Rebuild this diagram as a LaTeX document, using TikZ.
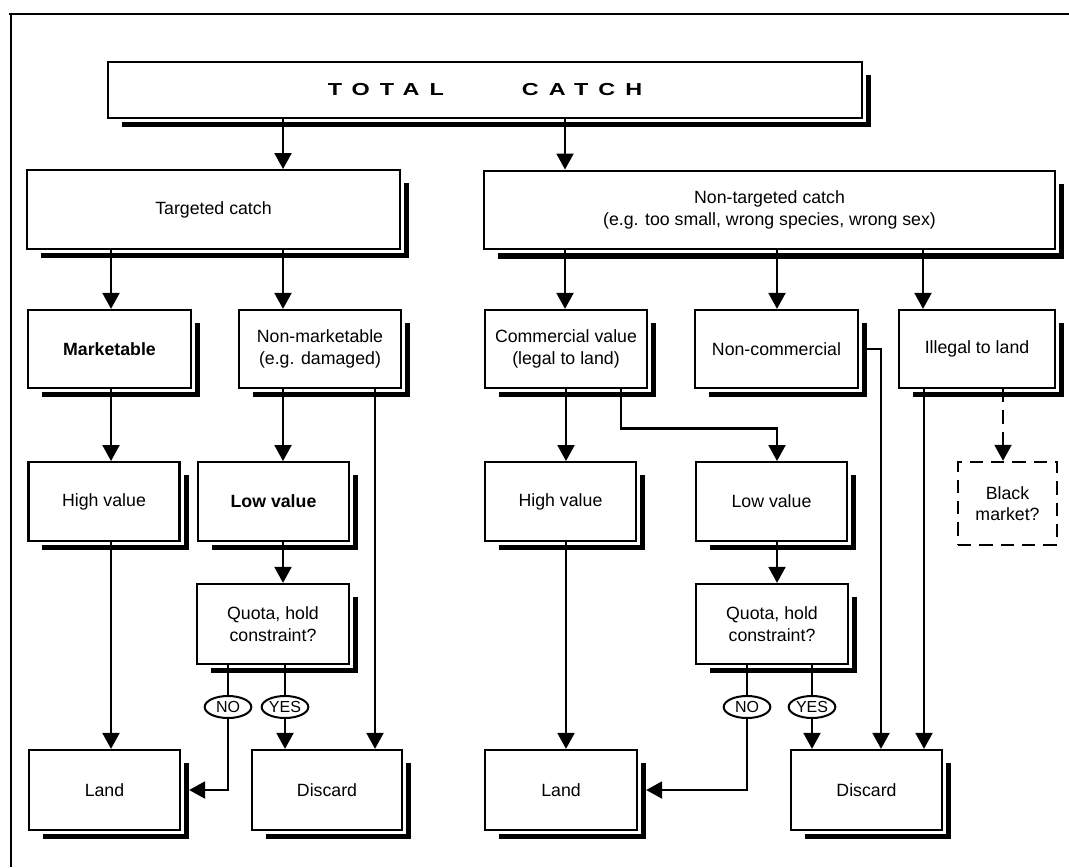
\documentclass[tikz,border=0pt]{standalone}
\usepackage{fontspec}
\setmainfont{Liberation Sans}
\usetikzlibrary{arrows.meta,shapes.geometric,positioning,calc}

\tikzset{
  box/.style={draw, line width=1.6pt, fill=white, align=center, inner sep=2pt,
    font=\fontsize{13.3}{16}\selectfont, minimum height=59pt},
  shadowline/.style={line width=3.9pt, line cap=butt, line join=miter},
  link/.style={line width=2.2pt},
  arr/.style={link, -{Triangle[length=12pt,width=12.5pt]}},
  answer/.style={draw, ellipse, line width=1.5pt, fill=white, inner sep=0pt,
    minimum width=35pt, minimum height=16.5pt, font=\fontsize{12}{12}\selectfont},
}
% L-shaped shadow to the lower right of a box
\newcommand\castshadow[1]{\draw[shadowline] ([xshift=4.2pt,yshift=-10.5pt]#1.north east) |- ([xshift=11pt,yshift=-4.2pt]#1.south west);}

\begin{document}
\begin{tikzpicture}[x=0.75pt,y=-0.75pt]
  \useasboundingbox (0,0) rectangle (1069,867);
  \draw[line width=1.6pt] (9,14) -- (1069,14);
  \draw[line width=1.6pt] (11,13) -- (11,867);

  % top levels
  \node[box, minimum width=565.5pt, minimum height=42pt,
    font=\fontsize{13}{15}\selectfont\bfseries\addfontfeature{FakeStretch=1.35,LetterSpace=58}] (total) at (485,90) {TOTAL\hspace{4.5em}CATCH};
  \node[box, minimum width=279.75pt] (targeted) at (213.5,209.5) {Targeted catch};
  \node[box, minimum width=428.25pt] (nontargeted) at (769.5,210) {Non-targeted catch\\(e.g. too small, wrong species, wrong sex)};

  % second row
  \node[box, minimum width=122.25pt, minimum height=58.5pt, font=\fontsize{13.3}{16}\selectfont\bfseries] (marketable) at (109.5,349) {Marketable};
  \node[box, minimum width=121.5pt, minimum height=58.5pt] (nonmarketable) at (320,349) {Non-marketable\\(e.g. damaged)};
  \node[box, minimum width=121.5pt, minimum height=58.5pt] (commercial) at (566,349) {Commercial value\\(legal to land)};
  \node[box, minimum width=122.25pt, minimum height=58.5pt] (noncommercial) at (776.5,349) {Non-commercial};
  \node[box, minimum width=117pt, minimum height=58.5pt] (illegal) at (977,349) {Illegal to land};

  % value
  \node[box, minimum width=113.25pt] (highL) at (104,501.5) {High value};
  \node[box, minimum width=113.25pt, font=\fontsize{13.3}{16}\selectfont\bfseries] (lowL) at (273.5,501.5) {Low value};
  \node[box, minimum width=113.25pt] (highR) at (560.5,501.5) {High value};
  \node[box, minimum width=113.25pt] (lowR) at (771.5,501.5) {Low value};
  \node[box, dashed, dash pattern=on 10pt off 6pt, line width=1.7pt, minimum width=74.25pt, minimum height=62.25pt] (black) at (1007.5,503.5) {Black\\market?};

  % quota
  \node[box, minimum width=114pt, minimum height=60pt] (quotaL) at (273,624) {Quota, hold\\constraint?};
  \node[box, minimum width=114pt, minimum height=60pt] (quotaR) at (772,624) {Quota, hold\\constraint?};
  \node[answer] (noL) at (228,707) {NO};
  \node[answer] (yesL) at (285,707) {YES};
  \node[answer] (noR) at (747,707) {NO};
  \node[answer] (yesR) at (812,707) {YES};

  % outcome
  \node[box, minimum width=113.25pt, minimum height=60pt] (landL) at (104.5,790) {Land};
  \node[box, minimum width=112.5pt, minimum height=60pt] (discardL) at (327,790) {Discard};
  \node[box, minimum width=114pt, minimum height=60pt] (landR) at (561,790) {Land};
  \node[box, minimum width=113.25pt, minimum height=60pt] (discardR) at (866.5,790) {Discard};

  \foreach \n in {total,targeted,nontargeted,marketable,nonmarketable,commercial,noncommercial,illegal,highL,lowL,highR,lowR,quotaL,quotaR,landL,discardL,landR,discardR}
    \castshadow{\n};

  \draw[arr] (total.south -| 283,0) -- (targeted.north -| 283,0);
  \draw[arr] (total.south -| 565,0) -- (nontargeted.north -| 565,0);
  \draw[arr] (targeted.south -| 111,0) -- (marketable.north -| 111,0);
  \draw[arr] (targeted.south -| 283,0) -- (nonmarketable.north -| 283,0);
  \draw[arr] (nontargeted.south -| 565,0) -- (commercial.north -| 565,0);
  \draw[arr] (nontargeted.south -| 777,0) -- (noncommercial.north -| 777,0);
  \draw[arr] (nontargeted.south -| 923,0) -- (illegal.north -| 923,0);

  % targeted side
  \draw[arr] (marketable.south -| 111,0) -- (highL.north -| 111,0);
  \draw[arr] (nonmarketable.south -| 283,0) -- (lowL.north -| 283,0);
  \draw[arr] (nonmarketable.south -| 375,0) -- (discardL.north -| 375,0);
  \draw[arr] (highL.south -| 111,0) -- (landL.north -| 111,0);
  \draw[arr] (lowL.south -| 283,0) -- (quotaL.north -| 283,0);
  \draw[link] (quotaL.south -| noL) -- (noL.north);
  \draw[link] (quotaL.south -| yesL) -- (yesL.north);
  \draw[arr] (noL.south) |- ([xshift=6pt]landL.east);
  \draw[arr] (yesL.south) -- (discardL.north -| yesL);

  % non-targeted side
  \draw[arr] (commercial.south -| 566,0) -- (highR.north -| 566,0);
  \draw[arr] (commercial.south -| 621,0) -- ++(0,39) -| (lowR.north -| 777,0);
  \draw[arr] (highR.south -| 566,0) -- (landR.north -| 566,0);
  \draw[arr] (lowR.south -| 777,0) -- (quotaR.north -| 777,0);
  \draw[link] (quotaR.south -| noR) -- (noR.north);
  \draw[link] (quotaR.south -| yesR) -- (yesR.north);
  \draw[arr] (noR.south) |- ([xshift=6pt]landR.east);
  \draw[arr] (yesR.south) -- (discardR.north -| yesR);
  \draw[arr] ([xshift=6pt]noncommercial.east) -| (discardR.north -| 881,0);
  \draw[arr] (illegal.south -| 924,0) -- (discardR.north -| 924,0);
  \draw[arr, dash pattern=on 10pt off 6pt] (illegal.south -| 1003,0) -- (black.north -| 1003,0);
\end{tikzpicture}
\end{document}
